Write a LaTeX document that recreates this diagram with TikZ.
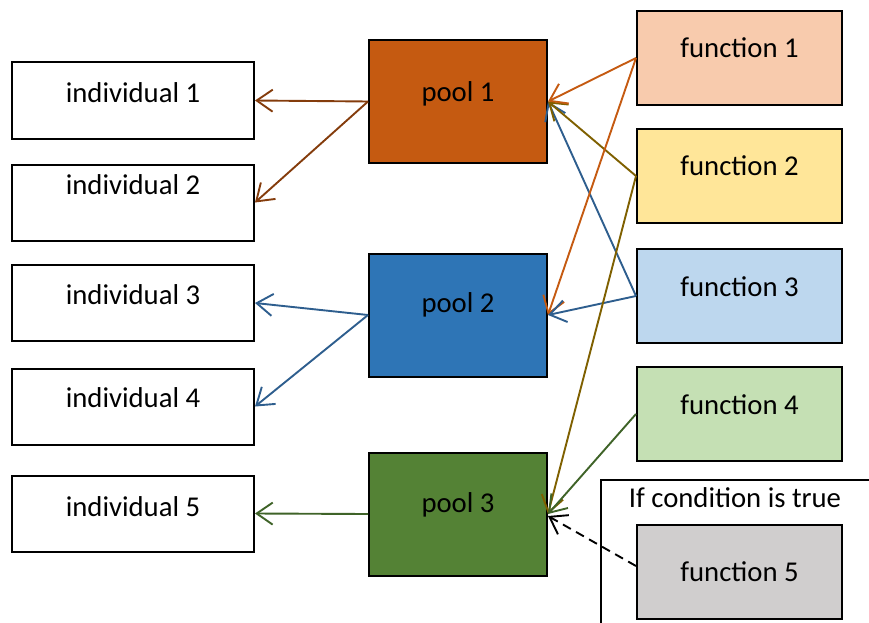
\documentclass[tikz,border=0pt]{standalone}
\usepackage{fontspec}
\setmainfont{Carlito}
\usetikzlibrary{arrows.meta}
\definecolor{poolA}{HTML}{C55A11}
\definecolor{poolB}{HTML}{2E75B6}
\definecolor{poolC}{HTML}{548235}
\definecolor{funA}{HTML}{F8CBAD}
\definecolor{funB}{HTML}{FFE699}
\definecolor{funC}{HTML}{BDD7EE}
\definecolor{funD}{HTML}{C5E0B4}
\definecolor{funE}{HTML}{D0CECE}
\definecolor{lnBrown}{HTML}{843C0C}
\definecolor{lnOrange}{HTML}{C55A11}
\definecolor{lnOlive}{HTML}{7F6000}
\definecolor{lnBlue}{HTML}{2E5E8E}
\definecolor{lnGreen}{HTML}{3F6328}
\tikzset{
  box/.style={draw=black, line width=2pt, rectangle, inner sep=0pt},
  indiv/.style={box, fill=white, minimum width=242pt, minimum height=76pt},
  pool/.style={box, minimum width=178pt, minimum height=123pt},
  func/.style={box, minimum width=205pt, minimum height=94pt},
  txt/.style={font=\fontsize{28.7}{32}\selectfont},
  link/.style={line width=1.9pt, -{Straight Barb[length=16pt, width=22pt, line width=1.9pt]}},
}
\begin{document}
\begin{tikzpicture}[x=1pt, y=-1pt]
\useasboundingbox (0,0) rectangle (869,623);

% individuals
\node[indiv, label={[txt, yshift=8pt]center:individual 1}] (ind1) at (133,100.5) {};
\node[indiv, label={[txt, yshift=18pt]center:individual 2}] (ind2) at (133,202.5) {};
\node[indiv, label={[txt, yshift=8pt]center:individual 3}] (ind3) at (133,303) {};
\node[indiv, label={[txt, yshift=9pt]center:individual 4}] (ind4) at (133,406.5) {};
\node[indiv, label={[txt, yshift=7pt]center:individual 5}] (ind5) at (133,513.5) {};

% pools
\node[pool, fill=poolA, label={[txt, yshift=8pt]center:pool 1}] (pool1) at (458,101.5) {};
\node[pool, fill=poolB, label={[txt, yshift=10pt]center:pool 2}] (pool2) at (458,315) {};
\node[pool, fill=poolC, label={[txt, yshift=9pt]center:pool 3}] (pool3) at (458,514) {};

% condition frame
\coordinate (cb) at (601,623);
\coordinate (ct) at (601,480);
\coordinate (cr) at (869,480);
\draw[line width=2pt] (cb) -- (ct) -- (cr);
\node[txt] (cond) at (735,498) {If condition is true};

% functions
\node[func, fill=funA, label={[txt, yshift=10pt]center:function 1}] (f1) at (739.5,58) {};
\node[func, fill=funB, label={[txt, yshift=10pt]center:function 2}] (f2) at (739.5,176) {};
\node[func, fill=funC, label={[txt, yshift=9pt]center:function 3}] (f3) at (739.5,296) {};
\node[func, fill=funD, label={[txt, yshift=9pt]center:function 4}] (f4) at (739.5,414) {};
\node[func, fill=funE, label={[txt]center:function 5}] (f5) at (739.5,572) {};

% pools to individuals
\draw[link, lnBrown] (pool1.west) -- (ind1.east);
\draw[link, lnBrown] (pool1.west) -- (ind2.east);
\draw[link, lnBlue] (pool2.west) -- (ind3.east);
\draw[link, lnBlue] (pool2.west) -- (ind4.east);
\draw[link, lnGreen] (pool3.west) -- (ind5.east);

% functions to pools
\draw[link, lnBlue] (f3.west) -- (pool1.east);
\draw[link, lnOlive] (f2.west) -- (pool1.east);
\draw[link, lnOrange] (f1.west) -- (pool1.east);
\draw[link, lnOrange] (f1.west) -- (pool2.east);
\draw[link, lnBlue] (f3.west) -- (pool2.east);
\draw[link, lnOlive] (f2.west) -- (pool3.east);
\draw[link, lnGreen] (f4.west) -- (pool3.east);
\draw[link, black, dashed, dash pattern=on 9pt off 6pt] ([yshift=6pt]f5.west) -- ([yshift=-2pt]pool3.east);
\end{tikzpicture}
\end{document}
